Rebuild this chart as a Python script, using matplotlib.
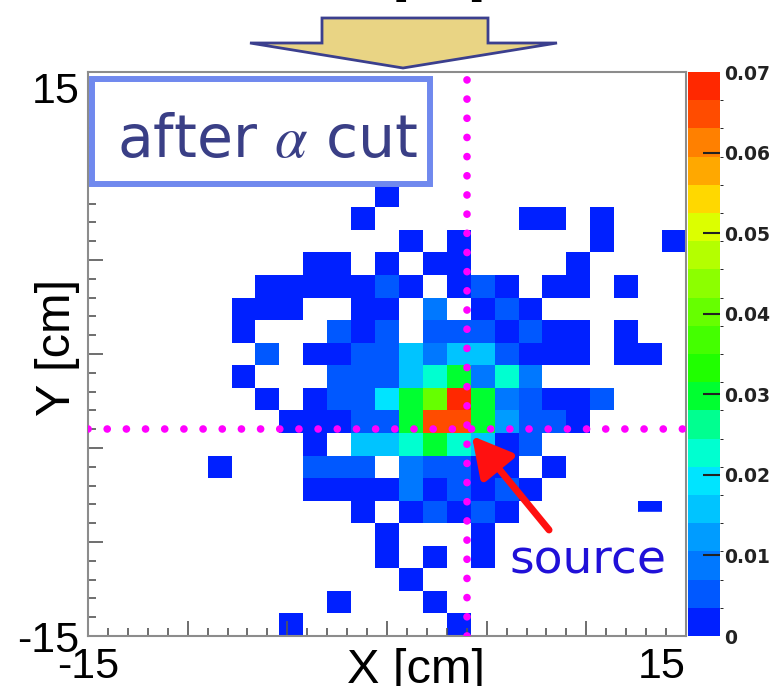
import numpy as np
import matplotlib
matplotlib.use("Agg")
import matplotlib.pyplot as plt
from matplotlib.colors import ListedColormap, BoundaryNorm
from matplotlib.patches import Rectangle, Polygon
from matplotlib.ticker import MultipleLocator

plt.rcParams['font.family'] = ['Liberation Sans', 'DejaVu Sans']
plt.rcParams['axes.unicode_minus'] = False
plt.rcParams['mathtext.fontset'] = 'stix'

# bin contents as colour level (1..20, 0.0035 per level), '.' = empty bin
# rows from top (y = 15) down to y = -15, 25 x 25 bins of 1.2 cm
rows = [
    ".........................",
    ".........................",
    ".........................",
    ".........................",
    ".........................",
    "............1............",
    "...........1......11.1...",
    ".............1.1.....1..1",
    ".........11.1.11....1....",
    ".......1111121.121.11.1..",
    "......111..11.3.121......",
    "......1...212.2221211.1..",
    ".......2.112253552111.11.",
    "......1...222579373......",
    ".......1.12269ck932112...",
    "........111229jj94221....",
    ".........1.55797512......",
    ".....1...222.32211.1.....",
    ".........1111312121......",
    "...........1.12121.....1.",
    "............1...1........",
    "............1.1.1........",
    ".............1...........",
    "..........1...1..........",
    "........1......1.........",
]
level_chars = ".123456789abcdefghijk"
level_step = 0.0035
z_max = 0.07
x_edges = np.linspace(-15, 15, 26)
y_edges = np.linspace(-15, 15, 26)
source = (4.0, -4.0)
cbar_ticks = [0, 0.01, 0.02, 0.03, 0.04, 0.05, 0.06, 0.07]
cbar_labels = ["0", "0.01", "0.02", "0.03", "0.04", "0.05", "0.06", "0.07"]

palette = ["#0020ff", "#0058ff", "#0078ff", "#009cff", "#00c4ff",
           "#00e4ff", "#00ffd0", "#00ff90", "#00ff30", "#20ff00",
           "#44ff00", "#66ff00", "#8cff00", "#b4ff00", "#dcff00",
           "#ffd800", "#ffa800", "#ff8000", "#ff4c00", "#ff2800"]

levels = np.array([[level_chars.index(ch) for ch in r] for r in rows], float)
z = np.where(levels > 0, (levels - 0.5) * level_step, np.nan)[::-1]

W, H = 776, 686
fig = plt.figure(figsize=(W / 100, H / 100), dpi=100)
ax = fig.add_axes([88 / W, 50 / H, 598 / W, 564 / H])

cmap = ListedColormap(palette)
cmap.set_bad('white')
bounds = np.linspace(0, z_max, len(palette) + 1)
norm = BoundaryNorm(bounds, cmap.N)
mesh = ax.pcolormesh(x_edges, y_edges, np.ma.masked_invalid(z), cmap=cmap,
                     norm=norm, antialiased=False, zorder=1)

# lower half of one bin is hidden in the original
bw = x_edges[1] - x_edges[0]
ax.add_patch(Rectangle((x_edges[23], y_edges[5]), bw, bw / 2, color='white', zorder=1.5))

ax.set_xlim(-15, 15)
ax.set_ylim(-15, 15)
ax.set_xticks(np.arange(-15, 16, 5))
ax.set_xticklabels(['-15', '', '', '', '', '', '15'])
ax.set_yticks(np.arange(-15, 16, 5))
ax.set_yticklabels(['-15', '', '', '', '', '', '15'])
ax.xaxis.set_minor_locator(MultipleLocator(1))
ax.yaxis.set_minor_locator(MultipleLocator(1))
ax.tick_params(which='both', direction='in', top=False, right=False,
               color='#555555', width=1.2, labelsize=31)
ax.tick_params(which='major', length=11)
ax.tick_params(which='minor', length=5.5)
ax.tick_params(axis='x', pad=8)
ax.tick_params(axis='y', pad=6)
xl = ax.get_xticklabels()
xl[0].set_ha('center')
xl[-1].set_ha('right')
yl = ax.get_yticklabels()
yl[-1].set_va('top')
for s in ax.spines.values():
    s.set_color('#8c8c8c')
    s.set_linewidth(1.5)

# dotted cross at the source position
ax.plot([source[0], source[0]], [-15, 15], color='#ff00ff', lw=5.5,
        linestyle=(0, (0.01, 2.5)), dash_capstyle='round', zorder=3)
ax.plot([-15, 15], [source[1], source[1]], color='#ff00ff', lw=5.5,
        linestyle=(0, (0.01, 2.5)), dash_capstyle='round', zorder=3)

ax.annotate("", xy=(4.26, -4.36), xytext=(8.13, -9.36),
            arrowprops=dict(arrowstyle="-|>,head_length=24,head_width=13",
                            color='#ff1010', lw=5, shrinkA=0, shrinkB=0,
                            mutation_scale=1), zorder=5)
ax.text(6.12, -11.6, "source", color='#2010d8', fontsize=34,
        family='DejaVu Sans', ha='left', va='baseline', zorder=5)

# legend-like box
ax.add_patch(Rectangle((0.0067, 0.8014), 0.5652, 0.1862, transform=ax.transAxes,
                       facecolor='white', edgecolor='#7089ee', lw=4.3,
                       clip_on=False, zorder=4))
ax.text(0.0485, 0.8493, r"after $\alpha$ cut", transform=ax.transAxes,
        color='#3a3f86', fontsize=42, family='DejaVu Sans',
        ha='left', va='baseline', zorder=5)

# colour bar
cax = fig.add_axes([688 / W, 50 / H, 32 / W, 564 / H])
cb = fig.colorbar(mesh, cax=cax, ticks=cbar_ticks)
cb.outline.set_visible(False)
cb.set_ticklabels(cbar_labels)
cax.tick_params(direction='in', length=12, width=1.5, color='#222222', pad=3)
for t in cax.get_yticklabels():
    t.set_family('DejaVu Sans')
    t.set_fontweight('bold')
    t.set_fontsize(13.5)
    t.set_color('#222222')
cticks = cax.yaxis.get_major_ticks()
for t in (cticks[0], cticks[-1]):
    t.tick1line.set_visible(False)
    t.tick2line.set_visible(False)

# axis titles
fig.text(416 / W, 3 / H, "X [cm]", fontsize=35, ha='center', va='baseline')
fig.text(57 / W, 1 - 347 / H, "Y [cm]", fontsize=35, rotation=90,
         ha='center', va='center')
# bottom of the label of the panel above
fig.text(416 / W, 1 + 8 / H, "X [cm]", fontsize=35, ha='center', va='baseline')

# big arrow above the panel
arrow_px = [(322, 18), (488, 18), (488, 43), (557, 43), (403, 68), (250, 43), (322, 43)]
fig.add_artist(Polygon([(x / W, 1 - y / H) for x, y in arrow_px], closed=True,
                       transform=fig.transFigure, facecolor='#e9d484',
                       edgecolor='#3b3f8e', lw=2))

fig.savefig("out.png", dpi=100)
